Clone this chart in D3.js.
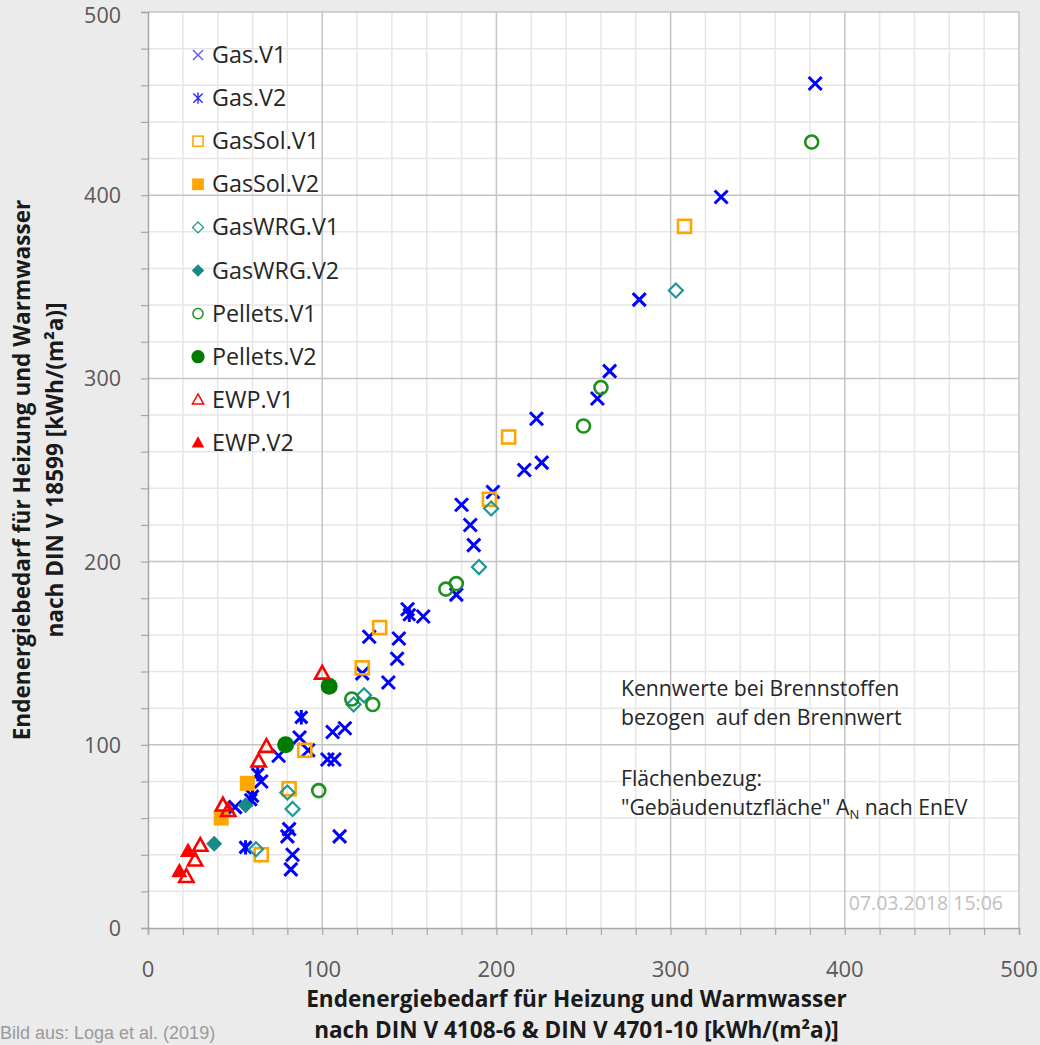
<!DOCTYPE html>
<html><head><meta charset="utf-8">
<script src="https://cdn.jsdelivr.net/npm/d3@7"></script>
<style>
html,body{margin:0;padding:0;background:#ebebeb;}
svg{display:block;}
</style></head>
<body>
<svg id="chart" width="1040" height="1045"></svg>
<script>
// ---- data ----
const gasV1 = [[383,461],[329,399],[282,343],[265,304],[258,289],[223,278],[216,250],[226,254],[198,238],[180,231],[185,220],[187,209],[177,182],[149,174],[158,170],[127,159],[144,158],[143,147],[123,139],[138,134],[106,107],[113,109],[87,104],[75,94],[92,97],[103,92],[107,92],[65,80],[50,66],[81,54],[80,50],[83,40],[82,32],[110,50]];
const gasV2 = [[88,115],[150,171],[63,84],[60,72],[59,70],[56,44]];
const gasSolV1 = [[308,383],[207,268],[196,234],[133,164],[123,142],[90,97],[81,76],[65,40]];
const gasSolV2 = [[57,79],[42,60]];
const gasWRGV1 = [[303,348],[197,229],[190,197],[124,127],[118,122],[80,74],[83,65],[62,43]];
const gasWRGV2 = [[56,67],[38,46]];
const pelletsV1 = [[381,429],[260,295],[250,274],[171,185],[177,188],[117,125],[129,122],[98,75]];
const pelletsV2 = [[104,132],[79,100]];
const ewpV1 = [[100,139],[68,99],[63.5,91],[43,67],[46,64],[30,45],[27,37],[22,28]];
const ewpV2 = [[23,42],[18,31]];

const seriesNames = ["Gas.V1","Gas.V2","GasSol.V1","GasSol.V2","GasWRG.V1","GasWRG.V2","Pellets.V1","Pellets.V2","EWP.V1","EWP.V2"];
const seriesData = [gasV1,gasV2,gasSolV1,gasSolV2,gasWRGV1,gasWRGV2,pelletsV1,pelletsV2,ewpV1,ewpV2];
const xTicks = [0,100,200,300,400,500];
const yTicks = [0,100,200,300,400,500];
const xTitle = ["Endenergiebedarf für Heizung und Warmwasser","nach DIN V 4108-6 & DIN V 4701-10 [kWh/(m²a)]"];
const yTitle = ["Endenergiebedarf für Heizung und Warmwasser","nach DIN V 18599 [kWh/(m²a)]"];

// ---- styles ----
const styles = {
  "Gas.V1":    {shape:"x",    color:"#0000ff", legendColor:"#5a5aff", fill:false},
  "Gas.V2":    {shape:"star", color:"#0000ff", legendColor:"#2a2aff", fill:false},
  "GasSol.V1": {shape:"square", color:"#ffa500", fill:false},
  "GasSol.V2": {shape:"square", color:"#ffa500", fill:true},
  "GasWRG.V1": {shape:"diamond", color:"#1b9898", fill:false},
  "GasWRG.V2": {shape:"diamond", color:"#178a8a", fill:true},
  "Pellets.V1":{shape:"circle", color:"#1f8f1f", fill:false},
  "Pellets.V2":{shape:"circle", color:"#007d00", fill:true},
  "EWP.V1":    {shape:"triangle", color:"#ff0000", fill:false},
  "EWP.V2":    {shape:"triangle", color:"#ff0000", fill:true}
};

const FONT = "'Open Sans', sans-serif";
const svg = d3.select("#chart");
const L=148, R=1019, T=12, B=928;
const x = d3.scaleLinear().domain([0,500]).range([L,R]);
const y = d3.scaleLinear().domain([0,500]).range([B,T]);

svg.append("rect").attr("x",L).attr("y",T).attr("width",R-L).attr("height",B-T).attr("fill","#ffffff");

const minor = d3.range(0,501,20);
// minor grid
svg.append("g").selectAll("line").data(minor.filter(v=>v%100!==0)).join("line")
  .attr("x1",d=>x(d)).attr("x2",d=>x(d)).attr("y1",T).attr("y2",B)
  .attr("stroke","#e6e6e6").attr("stroke-width",1.5);
svg.append("g").selectAll("line").data(minor.filter(v=>v%100!==0)).join("line")
  .attr("y1",d=>y(d)).attr("y2",d=>y(d)).attr("x1",L).attr("x2",R)
  .attr("stroke","#e6e6e6").attr("stroke-width",1.5);
// major grid
svg.append("g").selectAll("line").data(xTicks.filter(v=>v>0)).join("line")
  .attr("x1",d=>x(d)).attr("x2",d=>x(d)).attr("y1",T).attr("y2",B)
  .attr("stroke","#c4c4c4").attr("stroke-width",1.5);
svg.append("g").selectAll("line").data(yTicks.filter(v=>v>0)).join("line")
  .attr("y1",d=>y(d)).attr("y2",d=>y(d)).attr("x1",L).attr("x2",R)
  .attr("stroke","#c4c4c4").attr("stroke-width",1.5);

// axes
const xAxis = d3.axisBottom(x).tickValues(minor).tickSize(7).tickFormat("");
const gx = svg.append("g").attr("transform",`translate(0,${B})`).call(xAxis);
const yAxis = d3.axisLeft(y).tickValues(minor).tickSize(7).tickFormat("");
const gy = svg.append("g").attr("transform",`translate(${L},0)`).call(yAxis);
[gx,gy].forEach(g=>{
  g.select(".domain").attr("stroke","#a6a6a6").attr("stroke-width",1.5);
  g.selectAll(".tick line").attr("stroke","#a6a6a6").attr("stroke-width",1.2);
});
svg.append("g").selectAll("text").data(xTicks).join("text")
  .attr("x",d=>x(d)).attr("y",B+49).attr("text-anchor","middle")
  .attr("font-family",FONT).attr("font-size",22).attr("fill","#595959")
  .text(d=>d);
svg.append("g").selectAll("text").data(yTicks).join("text")
  .attr("x",L-27).attr("y",d=>y(d)+8).attr("dy",d=>d===500?3:0).attr("text-anchor","end")
  .attr("font-family",FONT).attr("font-size",21.5).attr("fill","#595959")
  .text(d=>d);

// titles
svg.append("g").selectAll("text").data(xTitle).join("text")
  .attr("x",(L+R)/2-7).attr("y",(d,i)=>1007+i*31).attr("text-anchor","middle")
  .attr("font-family",FONT).attr("font-weight","bold").attr("font-size",22.6).attr("fill","#1a1a1a")
  .text(d=>d);
svg.append("g").selectAll("text").data(yTitle).join("text")
  .attr("transform",(d,i)=>`translate(${30+i*33},470) rotate(-90)`).attr("text-anchor","middle")
  .attr("font-family",FONT).attr("font-weight","bold").attr("font-size",22.6).attr("fill","#1a1a1a")
  .text(d=>d);

// marker drawing
function drawMarker(g, shape, color, fill, big){
  const s = big ? 1 : 0.78;
  const sw = big ? 2.6 : 1.5;
  if(shape==="x"){
    const h=6.5*s;
    g.append("path").attr("d",`M${-h},${-h}L${h},${h}M${-h},${h}L${h},${-h}`)
      .attr("stroke",color).attr("stroke-width",big?3:1.4).attr("fill","none");
  } else if(shape==="star"){
    const h=6*s;
    g.append("path").attr("d",`M${-h},${-h}L${h},${h}M${-h},${h}L${h},${-h}M0,${-h*1.2}L0,${h*1.2}`)
      .attr("stroke",color).attr("stroke-width",big?3:1.4).attr("fill","none");
  } else if(shape==="square"){
    const h = fill ? 7.5*s : 6.5*s;
    g.append("rect").attr("x",-h).attr("y",-h).attr("width",2*h).attr("height",2*h)
      .attr("fill",fill?color:"none").attr("stroke",fill?"none":color).attr("stroke-width",sw);
  } else if(shape==="diamond"){
    const h = fill ? 8*s : 7*s;
    g.append("path").attr("d",`M0,${-h}L${h},0L0,${h}L${-h},0Z`)
      .attr("fill",fill?color:"none").attr("stroke",fill?"none":color).attr("stroke-width",big?2.2:1.3);
  } else if(shape==="circle"){
    g.append("circle").attr("r",fill?8.5*s:6.5*s)
      .attr("fill",fill?color:"none").attr("stroke",fill?"none":color).attr("stroke-width",sw);
  } else if(shape==="triangle"){
    const h = fill ? 8.5*s : 7.5*s;
    g.append("path").attr("d",`M0,${-h}L${h*0.95},${h*0.7}L${-h*0.95},${h*0.7}Z`)
      .attr("fill",fill?color:"none").attr("stroke",fill?"none":color).attr("stroke-width",sw).attr("stroke-linejoin","miter");
  }
}

// points
seriesNames.forEach((name,si)=>{
  const st = styles[name];
  const g = svg.append("g");
  seriesData[si].forEach(p=>{
    const m = g.append("g").attr("transform",`translate(${x(p[0])},${y(p[1])})`);
    drawMarker(m, st.shape, st.color, st.fill, true);
  });
});

// legend
const lg = svg.append("g");
seriesNames.forEach((name,i)=>{
  const st = styles[name];
  const yy = 55 + i*43.1;
  const m = lg.append("g").attr("transform",`translate(198,${yy})`);
  drawMarker(m, st.shape, st.legendColor||st.color, st.fill, false);
  lg.append("text").attr("x",212).attr("y",yy+8)
    .attr("font-family",FONT).attr("font-size",23.3).attr("fill","#262626")
    .text(name);
});

// annotations
const ann = svg.append("g").attr("font-family",FONT).attr("font-size",21.2).attr("fill","#262626");
ann.append("text").attr("x",621).attr("y",696).text("Kennwerte bei Brennstoffen");
ann.append("text").attr("x",621).attr("y",725).attr("xml:space","preserve").text("bezogen  auf den Brennwert");
ann.append("text").attr("x",621).attr("y",786).text("Flächenbezug:");
const t4 = ann.append("text").attr("x",621).attr("y",815);
t4.append("tspan").text("\"Gebäudenutzfläche\" A");
t4.append("tspan").attr("font-size",13).attr("dy",4).text("N");
t4.append("tspan").attr("dy",-4).text(" nach EnEV");

svg.append("text").attr("x",1003).attr("y",910).attr("text-anchor","end")
  .attr("font-family",FONT).attr("font-size",19.5).attr("fill","#bfbfbf")
  .text("07.03.2018 15:06");

svg.append("text").attr("x",0).attr("y",1039)
  .attr("font-family","'Liberation Sans', sans-serif").attr("font-size",18).attr("fill","#9a9a9a")
  .text("Bild aus: Loga et al. (2019)");
</script>
</body></html>
